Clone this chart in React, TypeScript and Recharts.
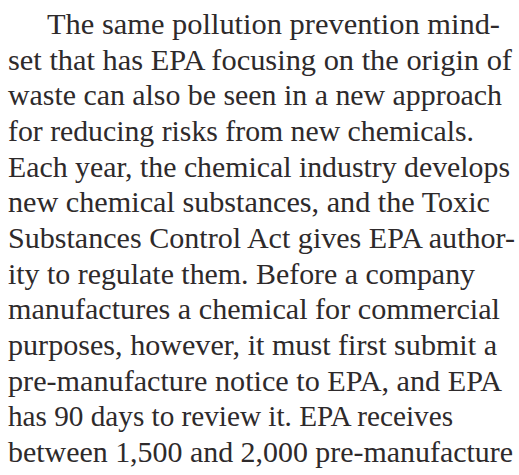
import React from "react"
import { Surface } from "recharts"

// paragraph lines, as set in the original (ragged right, first line indented)
const lines = [
  "The same pollution prevention mind-",
  "set that has EPA focusing on the origin of",
  "waste can also be seen in a new approach",
  "for reducing risks from new chemicals.",
  "Each year, the chemical industry develops",
  "new chemical substances, and the Toxic",
  "Substances Control Act gives EPA author-",
  "ity to regulate them. Before a company",
  "manufactures a chemical for commercial",
  "purposes, however, it must first submit a",
  "pre-manufacture notice to EPA, and EPA",
  "has 90 days to review it. EPA receives",
  "between 1,500 and 2,000 pre-manufacture",
]

// right edge of each line, measured off the page
const lineEnds = [500, 512, 502, 474, 510, 490, 515, 475, 500, 497, 502, 453, 513]

const WIDTH = 519
const HEIGHT = 475
const LEFT = 8
const INDENT = 47
const FIRST_BASELINE = 34
const LEADING = 35.67

export default function App() {
  return (
    <div
      style={{
        position: "absolute",
        left: 0,
        top: 0,
        width: WIDTH,
        height: HEIGHT,
        background: "#fff",
      }}
    >
      <Surface width={WIDTH} height={HEIGHT}>
        {lines.map((line, i) => {
          const x = i === 0 ? INDENT : LEFT
          return (
            <text
              key={i}
              x={x}
              y={FIRST_BASELINE + i * LEADING}
              textLength={lineEnds[i] - x}
              lengthAdjust="spacingAndGlyphs"
              fontFamily="'Liberation Serif', serif"
              fontSize={30}
              fill="#2e2a2b"
            >
              {line}
            </text>
          )
        })}
      </Surface>
    </div>
  )
}
